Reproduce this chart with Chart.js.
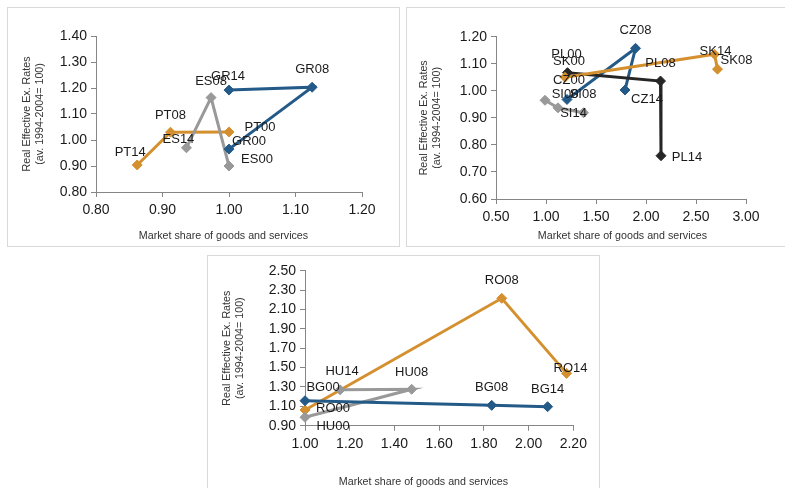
<!DOCTYPE html>
<html>
<head>
<meta charset="utf-8">
<script src="https://cdn.jsdelivr.net/npm/chart.js@4.4.1/dist/chart.umd.min.js"></script>
<style>
  html, body { margin: 0; padding: 0; background: #fff; }
  body { width: 785px; height: 488px; position: relative; overflow: hidden;
         font-family: "Liberation Sans", Arial, sans-serif; }
  .panel { position: absolute; box-sizing: border-box; border: 1px solid #d9d9d9; background: #fff; }
  .panel canvas { position: absolute; left: 0; top: 0; }
  .xtitle { position: absolute; font-size: 10.7px; color: #333; white-space: nowrap;
            transform: translate(-50%, -50%); }
</style>
</head>
<body>
<div class="panel" style="left:7px;top:7px;width:393px;height:240px"><canvas id="c1" width="391" height="238"></canvas></div>
<div class="panel" style="left:406px;top:7px;width:400px;height:240px"><canvas id="c2" width="378" height="238"></canvas></div>
<div class="panel" style="left:207px;top:255px;width:393px;height:240px"><canvas id="c3" width="391" height="232"></canvas></div>
<div class="xtitle" style="left:223.5px;top:235px">Market share of goods and services</div>
<div class="xtitle" style="left:622.5px;top:235px">Market share of goods and services</div>
<div class="xtitle" style="left:423.5px;top:481px">Market share of goods and services</div>
<script>
/* three scatter panels: market share (x) vs real effective exchange rate (y),
   points for 2000, 2008, 2014 joined per country */
(function () {
  "use strict";

  // panel 1
  var grNames = ["GR00", "GR08", "GR14"];
  var grShare = [1.00, 1.125, 1.00];
  var grReer = [0.965, 1.203, 1.192];
  var esNames = ["ES00", "ES08", "ES14"];
  var esShare = [1.00, 0.973, 0.936];
  var esReer = [0.90, 1.163, 0.970];
  var ptNames = ["PT00", "PT08", "PT14"];
  var ptShare = [1.00, 0.912, 0.862];
  var ptReer = [1.031, 1.030, 0.904];

  // panel 2
  var czNames = ["CZ00", "CZ08", "CZ14"];
  var czShare = [1.21, 1.895, 1.79];
  var czReer = [0.968, 1.157, 1.003];
  var plNames = ["PL00", "PL08", "PL14"];
  var plShare = [1.215, 2.145, 2.15];
  var plReer = [1.067, 1.036, 0.76];
  var siNames = ["SI00", "SI08", "SI14"];
  var siShare = [0.99, 1.12, 1.375];
  var siReer = [0.965, 0.937, 0.919];
  var skNames = ["SK00", "SK08", "SK14"];
  var skShare = [1.19, 2.685, 2.715];
  var skReer = [1.05, 1.135, 1.08];

  // panel 3
  var bgNames = ["BG00", "BG08", "BG14"];
  var bgShare = [1.00, 1.835, 2.085];
  var bgReer = [1.158, 1.11, 1.096];
  var roNames = ["RO00", "RO08", "RO14"];
  var roShare = [1.00, 1.88, 2.17];
  var roReer = [1.062, 2.215, 1.44];
  var huNames = ["HU00", "HU08", "HU14"];
  var huShare = [1.00, 1.477, 1.157];
  var huReer = [0.987, 1.276, 1.27];

  var yTitle = ["Real Effective Ex. Rates", "(av. 1994-2004= 100)"];

  var FONT = "'Liberation Sans', Arial, sans-serif";
  var BLUE = "#245a88", ORANGE = "#d4902e", GREY = "#999999", BLACK = "#262626";
  Chart.defaults.font.family = FONT;

  var fmt = function (v) { return Number(v).toFixed(2); };

  function series(names, xs, ys, color, offsets) {
    return {
      data: xs.map(function (x, i) { return { x: x, y: ys[i] }; }),
      pointNames: names,
      labelOffsets: offsets,
      showLine: true,
      borderColor: color,
      backgroundColor: color,
      borderWidth: 3,
      pointStyle: "rectRot",
      pointRadius: 5,
      pointBorderWidth: 1,
      pointBorderColor: color,
      clip: false,
    };
  }

  var pointLabels = {
    id: "pointLabels",
    afterDatasetsDraw: function (chart) {
      var ctx = chart.ctx;
      ctx.save();
      ctx.font = "13px " + FONT;
      ctx.fillStyle = "#1a1a1a";
      ctx.textAlign = "center";
      ctx.textBaseline = "middle";
      chart.data.datasets.forEach(function (ds, i) {
        chart.getDatasetMeta(i).data.forEach(function (pt, j) {
          var off = ds.labelOffsets[j];
          ctx.fillText(ds.pointNames[j], pt.x + off[0], pt.y + off[1]);
        });
      });
      ctx.restore();
    },
  };

  function axis(min, max, step, fit) {
    return {
      type: "linear",
      min: min,
      max: max,
      ticks: { stepSize: step, callback: fmt, color: "#1a1a1a", font: { size: 14 },
               padding: 4, maxRotation: 0, autoSkip: false },
      grid: { drawOnChartArea: false, drawTicks: true, tickLength: 5, color: "#868686" },
      border: { color: "#868686" },
      afterFit: fit,
    };
  }

  function draw(id, datasets, xr, yr, box) {
    var x = axis(xr[0], xr[1], xr[2], function (s) { s.height = box.xh; });
    x.ticks.padding = 5;
    var y = axis(yr[0], yr[1], yr[2], function (s) { s.width = box.yw; });
    y.title = { display: true, text: yTitle, color: "#333", font: { size: 10.7, lineHeight: 1.2 },
                padding: { top: box.tp, bottom: 0 } };
    new Chart(document.getElementById(id), {
      type: "scatter",
      data: { datasets: datasets },
      options: {
        responsive: false,
        animation: false,
        devicePixelRatio: 1,
        layout: { padding: { left: 0, top: box.top, right: box.right, bottom: 0 } },
        plugins: { legend: { display: false }, tooltip: { enabled: false } },
        scales: { x: x, y: y },
      },
      plugins: [pointLabels],
    });
  }

  draw("c1", [
    series(grNames, grShare, grReer, BLUE, [[20, -8], [0, -18], [-1, -14]]),
    series(esNames, esShare, esReer, GREY, [[28, -7], [0, -16], [-8, -8]]),
    series(ptNames, ptShare, ptReer, ORANGE, [[31, -5], [0, -17], [-7, -13]]),
  ], [0.8, 1.2, 0.1], [0.8, 1.4, 0.1], { xh: 54, yw: 88, top: 28, right: 37, tp: 12.3 });

  draw("c2", [
    series(siNames, siShare, siReer, GREY, [[20, -6], [25, -13], [-10, 1]]),
    series(skNames, skShare, skReer, ORANGE, [[4, -16], [22, 6], [-2, -18]]),
    series(plNames, plShare, plReer, BLACK, [[-1, -18], [0, -18], [26, 2]]),
    series(czNames, czShare, czReer, BLUE, [[2, -19], [0, -18], [22, 9]]),
  ], [0.5, 3.0, 0.5], [0.6, 1.2, 0.1], { xh: 47, yw: 89, top: 28.7, right: 39, tp: 10.6 });

  draw("c3", [
    series(bgNames, bgShare, bgReer, BLUE, [[18, -13], [0, -18], [0, -17]]),
    series(huNames, huShare, huReer, GREY, [[28, 9], [0, -17], [2, -18]]),
    series(roNames, roShare, roReer, ORANGE, [[28, -2], [0, -18], [4, -5]]),
  ], [1.0, 2.2, 0.2], [0.9, 2.5, 0.2], { xh: 62.3, yw: 97, top: 14.7, right: 25.7, tp: 12.3 });
})();
</script>
</body>
</html>
